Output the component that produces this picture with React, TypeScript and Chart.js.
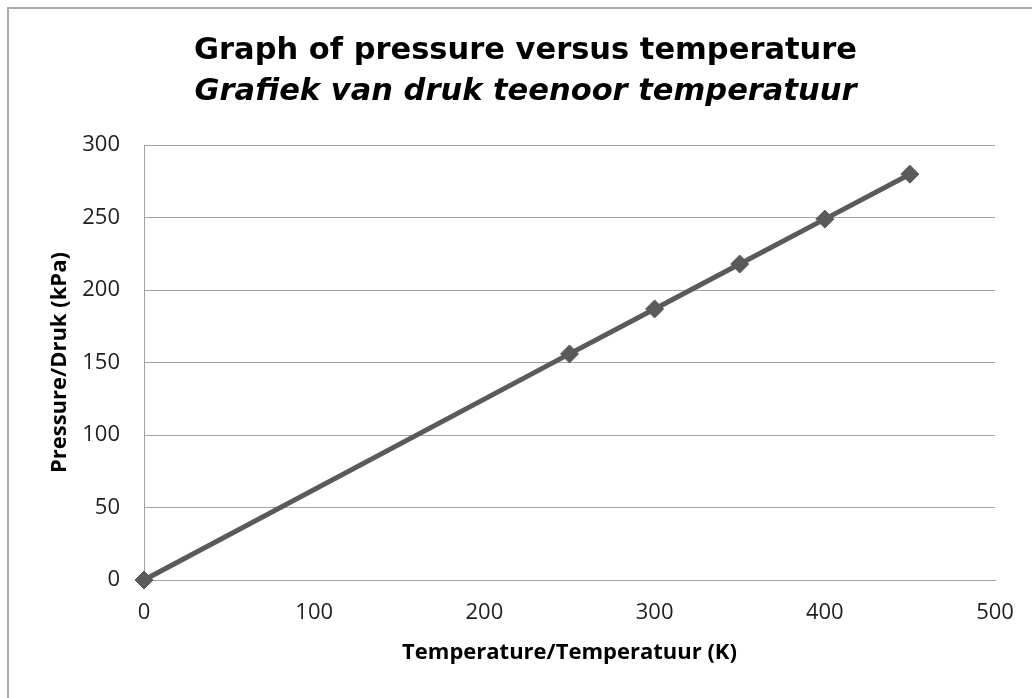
import React, { useEffect, useRef } from "react";
import { Chart, registerables } from "chart.js";

Chart.register(...registerables);

// ---- data ----
const temperatures = [0, 250, 300, 350, 400, 450];
const pressures = [0, 156, 187, 218, 249, 280];
const xTickValues = [0, 100, 200, 300, 400, 500];
const yTickValues = [0, 50, 100, 150, 200, 250, 300];
const titleLine1 = "Graph of pressure versus temperature";
const titleLine2 = "Grafiek van druk teenoor temperatuur";
const xAxisTitle = "Temperature/Temperatuur (K)";
const yAxisTitle = "Pressure/Druk (kPa)";

const W = 1032;
const H = 698;

export default function App() {
  const ref = useRef<HTMLCanvasElement | null>(null);

  useEffect(() => {
    if (!ref.current) return;
    const lineColor = "#5a5a5a";
    const gridColor = "#a3a3a3";
    const tickColor = "#1e1e1e";
    const chart = new Chart(ref.current, {
      type: "line",
      data: {
        datasets: [
          {
            label: "Pressure",
            data: temperatures.map((t, i) => ({ x: t, y: pressures[i] })),
            borderColor: lineColor,
            backgroundColor: lineColor,
            borderWidth: 5,
            pointStyle: "rectRot",
            pointRadius: 9,
            pointBorderWidth: 1,
            pointBackgroundColor: lineColor,
            pointBorderColor: lineColor,
            tension: 0,
            clip: false,
          } as any,
        ],
      },
      options: {
        responsive: false,
        animation: false,
        devicePixelRatio: 1,
        layout: { padding: { left: 19, right: 0, top: 0, bottom: 0 } },
        plugins: {
          legend: { display: false },
          tooltip: { enabled: false },
          title: {
            display: true,
            text: titleLine1,
            color: "#000",
            font: { family: "'DejaVu Sans', sans-serif", size: 30.5, weight: "bold", lineHeight: 1.2 },
            padding: { top: 33, bottom: 0 },
          },
          subtitle: {
            display: true,
            text: titleLine2,
            color: "#000",
            font: { family: "'DejaVu Sans', sans-serif", size: 30.5, weight: "bold", style: "italic", lineHeight: 1.2 },
            padding: { top: 4, bottom: 35 },
          },
        },
        scales: {
          x: {
            type: "linear",
            min: xTickValues[0],
            max: xTickValues[xTickValues.length - 1],
            afterBuildTicks: (scale: any) => {
              scale.ticks = xTickValues.map((v) => ({ value: v }));
            },
            grid: { display: false, drawTicks: false },
            border: { display: true, color: gridColor, width: 1 },
            ticks: {
              color: tickColor,
              padding: 20,
              font: { family: "'Open Sans', sans-serif", size: 22 },
            },
            title: {
              display: true,
              text: xAxisTitle,
              color: "#000",
              font: { family: "'Open Sans', sans-serif", size: 22, weight: "bold", lineHeight: 1.2 },
              padding: { top: 0, bottom: 32 },
            },
            afterFit: (scale: any) => {
              scale.height = 118;
              scale.paddingLeft = 0;
              scale.paddingRight = 37;
              scale.paddingTop = 0;
              scale.paddingBottom = 0;
            },
          },
          y: {
            type: "linear",
            min: yTickValues[0],
            max: yTickValues[yTickValues.length - 1],
            afterBuildTicks: (scale: any) => {
              scale.ticks = yTickValues.map((v) => ({ value: v }));
            },
            grid: { display: true, color: gridColor, lineWidth: 1, drawTicks: false },
            border: { display: true, color: gridColor, width: 1 },
            ticks: {
              color: tickColor,
              padding: 24,
              font: { family: "'Open Sans', sans-serif", size: 22 },
            },
            title: {
              display: true,
              text: yAxisTitle,
              color: "#000",
              font: { family: "'Open Sans', sans-serif", size: 22, weight: "bold", lineHeight: 1.2 },
              padding: { top: 28, bottom: 0 },
            },
            afterFit: (scale: any) => {
              scale.width = 125;
              scale.paddingLeft = 0;
              scale.paddingRight = 0;
              scale.paddingTop = 0;
              scale.paddingBottom = 0;
            },
          },
        },
      } as any,
    });
    return () => chart.destroy();
  }, []);

  return (
    <>
      <div
        style={{
          position: "fixed",
          left: 7,
          top: 7,
          width: 2000,
          height: 2000,
          borderLeft: "2px solid #ababab",
          borderTop: "2px solid #ababab",
          background: "#fff",
        }}
      />
      <canvas
        ref={ref}
        width={W}
        height={H}
        style={{ position: "fixed", left: 0, top: 0, width: W, height: H }}
      />
    </>
  );
}
